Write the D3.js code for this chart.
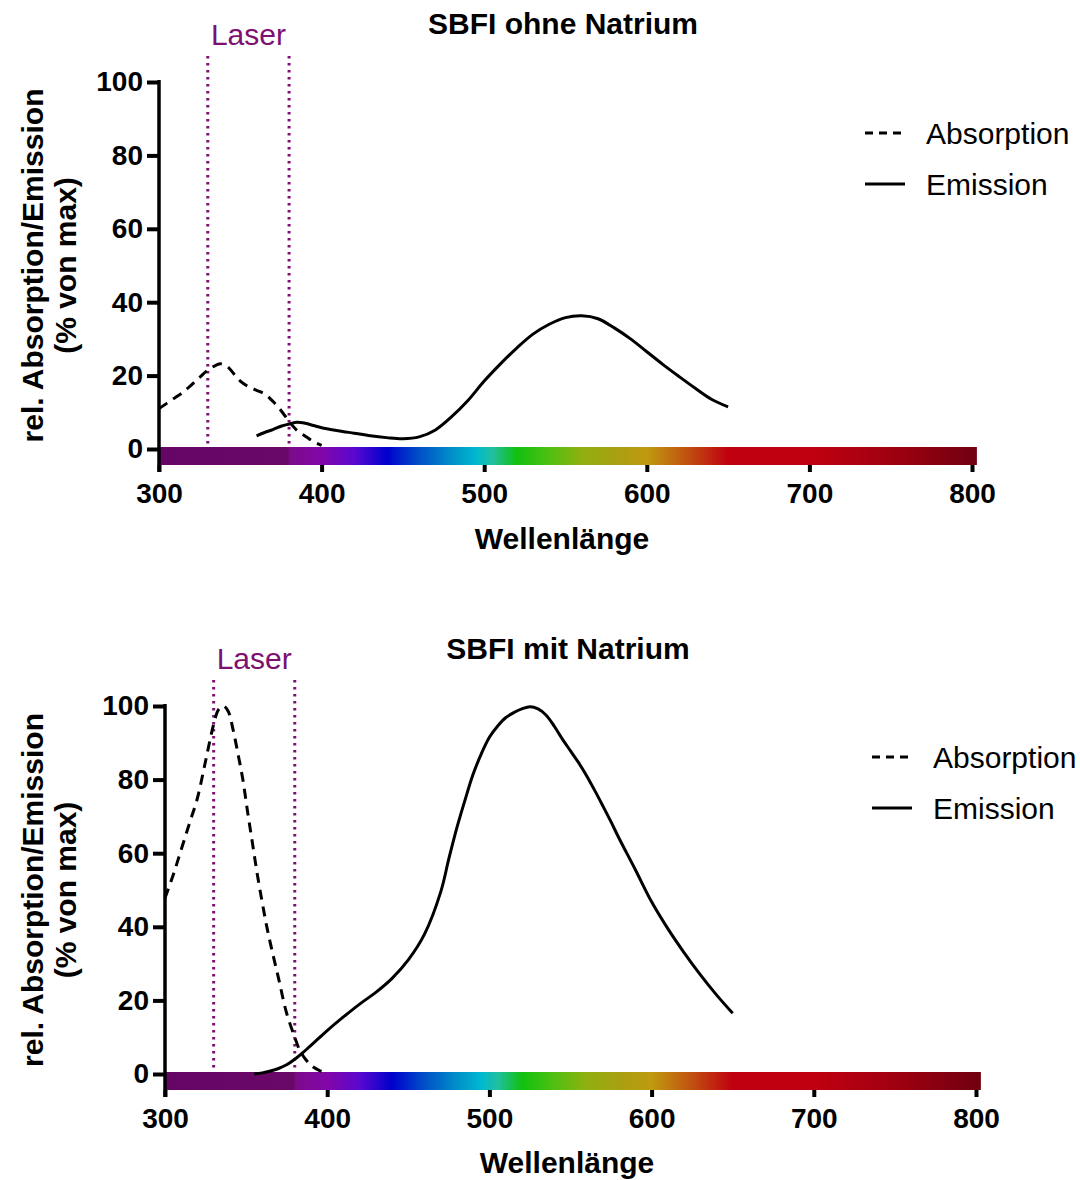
<!DOCTYPE html>
<html>
<head>
<meta charset="utf-8">
<script src="https://cdn.jsdelivr.net/npm/d3@7"></script>
<style>
  body { margin: 0; background: #fff; }
  svg text { font-family: Arial, "Liberation Sans", sans-serif; }
</style>
</head>
<body>
<div id="main"></div>
<script>
// --- data (wavelength nm -> % of max) ---
const ohneAbsWl  = [300,305,310,315,320,325,330,335,338,342,346,350,355,360,365,370,375,380,385,390,395,400];
const ohneAbsVal = [11,12.5,14,15.5,17.5,19.5,21.5,22.8,23.2,22.5,20.5,18.5,17,16,15,13,10.5,7.5,5,3.5,2,1];

const ohneEmWl  = [360,365,370,375,380,385,390,395,400,410,420,430,440,450,460,470,480,490,500,510,520,530,540,550,560,570,580,590,600,610,620,630,640,650];
const ohneEmVal = [3.6,4.5,5.3,6.2,6.8,7.3,7,6.4,5.8,5,4.3,3.6,3.1,2.8,3.3,5.2,8.8,13.2,18.5,23.2,27.5,31.3,34,35.8,36.3,35.5,33,30,26.5,23,19.7,16.5,13.5,11.5];

const mitAbsWl  = [300,305,310,315,320,325,330,333,336,339,342,345,348,351,354,357,360,363,366,370,375,380,383,387,391,395,400];
const mitAbsVal = [47.8,54,61,68,75,85,95,99,100,98.5,93.5,87,80,71,62.5,54,46.5,39.5,33.5,26,16.5,10,6.5,3.8,2,1,0.2];

const mitEmWl  = [355,360,365,370,375,380,385,390,395,400,410,420,430,440,450,460,470,475,480,485,490,495,500,505,510,515,520,525,530,535,540,545,550,555,560,565,570,575,580,590,600,610,620,630,640,650];
const mitEmVal = [0,0.3,0.8,1.5,2.5,4,5.8,7.8,9.8,11.8,15.5,19,22.2,26,31,38,49.5,58.5,67,74.5,81.5,87,91.5,94.5,96.8,98.2,99.2,99.8,99.2,97.5,94.5,91,87.8,84.6,81,77,72.8,68.5,64,55.5,46.8,39.5,33,27,21.5,16.5];

const laserWl = [330, 380];
const xTicks = [300, 400, 500, 600, 700, 800];
const yTicks = [0, 20, 40, 60, 80, 100];
const seriesNames = ["Absorption", "Emission"];

// spectrum colour stops for the wavelength bar
const specWl  = [300, 379, 381, 400, 420, 440, 460, 480, 495, 505, 520, 540, 560, 580, 600, 620, 640, 650, 700, 750, 803];
const specCol = ["#650565","#6a0868","#7d0a8c","#8206a8","#5a08d0","#0000cc","#0050c8","#0090c8","#00b8d0","#20c0a0","#10c010","#50c010","#90b010","#a8a010","#c09a10","#c06010","#c02010","#c00010","#c00010","#a00010","#700010"];

const laserCol = "#7d1070";

const svg = d3.select("#main").append("svg")
    .attr("width", 1080)
    .attr("height", 1180);

const grad = svg.append("defs").append("linearGradient")
    .attr("id", "spectrum")
    .attr("x1", "0%").attr("x2", "100%").attr("y1", "0%").attr("y2", "0%");
grad.selectAll("stop")
    .data(specWl)
    .enter().append("stop")
    .attr("offset", d => ((d - 300) / (803 - 300) * 100) + "%")
    .attr("stop-color", (d, i) => specCol[i]);

function drawPanel(p) {
    const x = d3.scaleLinear().domain([300, 800]).range([p.x0, p.x1]);
    const y = d3.scaleLinear().domain([0, 100]).range([p.y0, p.y1]);
    const g = svg.append("g");

    // title
    g.append("text")
        .attr("x", p.titleX).attr("y", p.titleY)
        .attr("text-anchor", "middle")
        .style("font-size", "30px").style("font-weight", "bold")
        .text(p.title);

    // laser lines + label
    g.selectAll(".laser")
        .data(laserWl)
        .enter().append("line")
        .attr("x1", d => x(d)).attr("x2", d => x(d))
        .attr("y1", p.y1 - 26).attr("y2", p.y0 - 5)
        .attr("stroke", laserCol)
        .attr("stroke-width", 3)
        .attr("stroke-dasharray", "2.5,4.5");
    g.append("text")
        .attr("x", (x(laserWl[0]) + x(laserWl[1])) / 2)
        .attr("y", p.y1 - 37)
        .attr("text-anchor", "middle")
        .attr("fill", laserCol)
        .style("font-size", "30px")
        .text("Laser");

    // spectrum bar
    const barTop = p.y0 - 2, barH = 18;
    g.append("rect")
        .attr("x", x(300)).attr("y", barTop)
        .attr("width", x(803) - x(300)).attr("height", barH)
        .attr("fill", "url(#spectrum)");

    // curves
    const line = d3.line().x(d => x(d[0])).y(d => y(d[1])).curve(d3.curveCatmullRom.alpha(0.5));
    const abs = d3.zip(p.absWl, p.absVal);
    const em = d3.zip(p.emWl, p.emVal);
    g.append("path").datum(abs)
        .attr("d", line)
        .attr("fill", "none").attr("stroke", "#000")
        .attr("stroke-width", 3).attr("stroke-dasharray", "10,7");
    g.append("path").datum(em)
        .attr("d", line)
        .attr("fill", "none").attr("stroke", "#000")
        .attr("stroke-width", 3);

    // y axis
    const yAxis = g.append("g")
        .attr("transform", `translate(${p.x0},0)`)
        .call(d3.axisLeft(y).tickValues(yTicks).tickSize(12).tickSizeOuter(0).tickPadding(4));
    yAxis.select(".domain").remove();
    yAxis.selectAll(".tick line").attr("stroke-width", 4);
    yAxis.selectAll(".tick text")
        .style("font-size", "28px").style("font-weight", "bold")
        .style("font-family", "Arial, 'Liberation Sans', sans-serif")
        .attr("fill", "#000");
    g.append("line")
        .attr("x1", p.x0).attr("x2", p.x0)
        .attr("y1", p.y1 - 2).attr("y2", barTop + barH + 7)
        .attr("stroke", "#000").attr("stroke-width", 3.5);

    // x axis under the bar
    const xAxis = g.append("g")
        .attr("transform", `translate(0,${barTop + barH})`)
        .call(d3.axisBottom(x).tickValues(xTicks).tickSize(7).tickSizeOuter(0).tickPadding(11));
    xAxis.select(".domain").remove();
    xAxis.selectAll(".tick line").attr("stroke-width", 4);
    xAxis.selectAll(".tick text")
        .style("font-size", "28px").style("font-weight", "bold")
        .style("font-family", "Arial, 'Liberation Sans', sans-serif")
        .attr("fill", "#000");

    g.append("text")
        .attr("x", p.xLabelX).attr("y", p.xLabelY)
        .attr("text-anchor", "middle")
        .style("font-size", "30px").style("font-weight", "bold")
        .text("Wellenlänge");

    // y label, two lines
    const yc = (p.y0 + p.y1) / 2;
    g.append("text")
        .attr("transform", `translate(43,${yc}) rotate(-90)`)
        .attr("text-anchor", "middle")
        .style("font-size", "30px").style("font-weight", "bold")
        .text("rel. Absorption/Emission");
    g.append("text")
        .attr("transform", `translate(76,${yc}) rotate(-90)`)
        .attr("text-anchor", "middle")
        .style("font-size", "30px").style("font-weight", "bold")
        .text("(% von max)");

    // legend
    const lg = g.append("g").attr("transform", `translate(${p.legX},${p.legY})`);
    lg.selectAll("line")
        .data(seriesNames)
        .enter().append("line")
        .attr("x1", 0).attr("x2", 40)
        .attr("y1", (d, i) => i * 51).attr("y2", (d, i) => i * 51)
        .attr("stroke", "#000").attr("stroke-width", 3)
        .attr("stroke-dasharray", (d, i) => i === 0 ? "8,6" : null);
    lg.selectAll("text")
        .data(seriesNames)
        .enter().append("text")
        .attr("x", 61).attr("y", (d, i) => i * 51 + 11)
        .style("font-size", "30px")
        .text(d => d);
}

drawPanel({
    title: "SBFI ohne Natrium", titleX: 563, titleY: 34,
    x0: 159, x1: 972, y0: 449, y1: 82,
    xLabelX: 562, xLabelY: 549,
    legX: 865, legY: 133,
    absWl: ohneAbsWl, absVal: ohneAbsVal, emWl: ohneEmWl, emVal: ohneEmVal
});

drawPanel({
    title: "SBFI mit Natrium", titleX: 568, titleY: 659,
    x0: 165, x1: 976, y0: 1074, y1: 706,
    xLabelX: 567, xLabelY: 1173,
    legX: 872, legY: 757,
    absWl: mitAbsWl, absVal: mitAbsVal, emWl: mitEmWl, emVal: mitEmVal
});
</script>
</body>
</html>
